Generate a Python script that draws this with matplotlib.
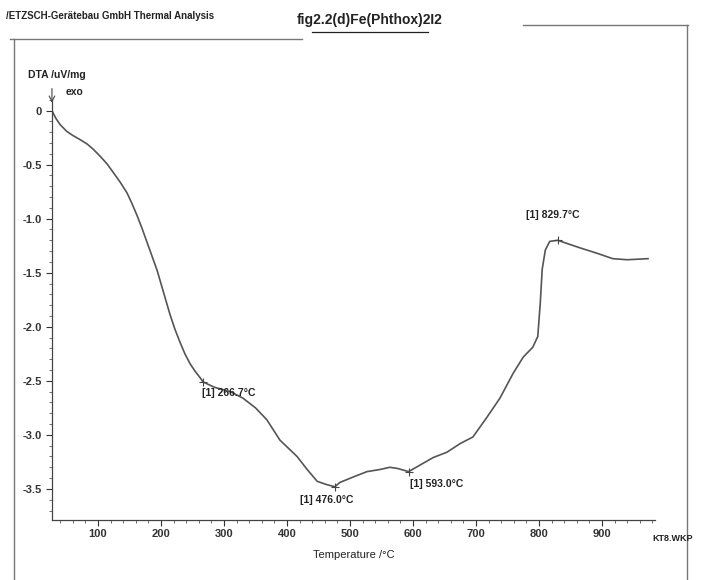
import matplotlib
matplotlib.use("Agg")
import matplotlib.pyplot as plt
from matplotlib.lines import Line2D
from matplotlib.ticker import MultipleLocator

# DTA trace of Fe(Phthox)2I2, temperature in degC, signal in uV/mg
temp = [27, 33, 40, 50, 60, 72, 83, 93, 103, 114, 124, 135, 146, 154, 162, 170, 178,
        186, 194, 203, 214, 222, 230, 238, 246, 254, 262, 266.7,
        285, 310, 330, 350, 368, 389, 416, 432, 448, 463, 476.0, 484, 505, 527, 548,
        563, 575, 593.0, 611, 632, 654, 675, 695, 717, 738, 759, 775, 790, 798, 802,
        805, 810, 817, 829.7, 865, 892, 917, 940, 973]
dta = [0.0, -0.07, -0.13, -0.19, -0.23, -0.27, -0.31, -0.36, -0.42, -0.49, -0.57, -0.66,
       -0.76, -0.86, -0.97, -1.09, -1.22, -1.35, -1.48, -1.66, -1.88, -2.02, -2.14,
       -2.25, -2.34, -2.41, -2.47, -2.51,
       -2.56, -2.60, -2.66, -2.75, -2.86, -3.05, -3.20,
       -3.32, -3.43, -3.46, -3.48, -3.44, -3.39, -3.34, -3.32, -3.30, -3.31, -3.34,
       -3.28, -3.21, -3.16, -3.08, -3.02, -2.84, -2.66, -2.43, -2.28, -2.19, -2.09,
       -1.78, -1.47, -1.29, -1.21, -1.20, -1.27, -1.32, -1.37, -1.38, -1.37]

# marked peaks
peak_t = [266.7, 476.0, 593.0, 829.7]
peak_y = [-2.51, -3.48, -3.34, -1.20]
peak_lbl = ["[1] 266.7°C", "[1] 476.0°C", "[1] 593.0°C", "[1] 829.7°C"]
lbl_dx = [-2, -55, 2, -50]
lbl_dy = [-0.10, -0.12, -0.11, 0.23]

ink = "#222222"
plt.rcParams['font.family'] = ['Liberation Sans Narrow', 'Liberation Sans', 'DejaVu Sans']
plt.rcParams['font.weight'] = 'bold'

fig = plt.figure(figsize=(7.02, 5.8), dpi=100)
ax = fig.add_axes([0.074, 0.103, 0.859, 0.725])

ax.plot(temp, dta, color="#555555", lw=1.2)
for t, y, s, dx, dy in zip(peak_t, peak_y, peak_lbl, lbl_dx, lbl_dy):
    ax.plot(t, y, marker="+", color="#444444", ms=6, mew=0.8)
    ax.text(t + dx, y + dy, s, fontsize=7.5, color=ink, ha="left", va="center")

ax.set_xlim(27, 984)
ax.set_ylim(-3.79, 0.10)
ax.xaxis.set_major_locator(MultipleLocator(100))
ax.xaxis.set_minor_locator(MultipleLocator(20))
ax.yaxis.set_major_locator(MultipleLocator(0.5))
ax.yaxis.set_minor_locator(MultipleLocator(0.1))
ax.set_xticks([100, 200, 300, 400, 500, 600, 700, 800, 900])
ax.set_yticks([0, -0.5, -1.0, -1.5, -2.0, -2.5, -3.0, -3.5])
ax.set_yticklabels(["0", "-0.5", "-1.0", "-1.5", "-2.0", "-2.5", "-3.0", "-3.5"])
ax.tick_params(which="major", length=4, width=0.8, labelsize=8, colors="#333333")
ax.tick_params(axis="x", which="major", pad=2)
ax.tick_params(which="minor", length=2, width=0.6, colors="#555555")
for sp in ["top", "right"]:
    ax.spines[sp].set_visible(False)
for sp in ["left", "bottom"]:
    ax.spines[sp].set_color("#444444")
    ax.spines[sp].set_linewidth(0.9)

ax.set_xlabel("Temperature /°C", fontsize=8, color=ink, labelpad=8)

fig.text(0.040, 0.865, "DTA /uV/mg", fontsize=7.5, color=ink)
fig.text(0.094, 0.836, "exo", fontsize=7.5, color=ink)
ax.annotate("", xy=(0.074, 0.818), xytext=(0.074, 0.852), xycoords="figure fraction",
            arrowprops=dict(arrowstyle="->", color="#444444", lw=0.8))
fig.text(0.958, 0.067, "KT8.WKP", fontsize=6.5, color=ink, ha="center")

fig.text(0.008, 0.972, "/ETZSCH-Gerätebau GmbH Thermal Analysis", fontsize=7,
         color=ink, va="center")
fig.text(0.527, 0.965, "fig2.2(d)Fe(Phthox)2I2", fontsize=10, color=ink,
         ha="center", va="center")
fig.add_artist(Line2D([0.445, 0.609], [0.944, 0.944], color=ink, lw=0.9))

# outer report frame
frame = "#777777"
fig.add_artist(Line2D([0.014, 0.43], [0.932, 0.932], color=frame, lw=1.0))
fig.add_artist(Line2D([0.020, 0.020], [0.0, 0.932], color=frame, lw=1.0))
fig.add_artist(Line2D([0.745, 0.980], [0.957, 0.957], color=frame, lw=1.0))
fig.add_artist(Line2D([0.979, 0.979], [0.0, 0.957], color=frame, lw=1.0))

fig.savefig("out.png", dpi=100, facecolor="white")
